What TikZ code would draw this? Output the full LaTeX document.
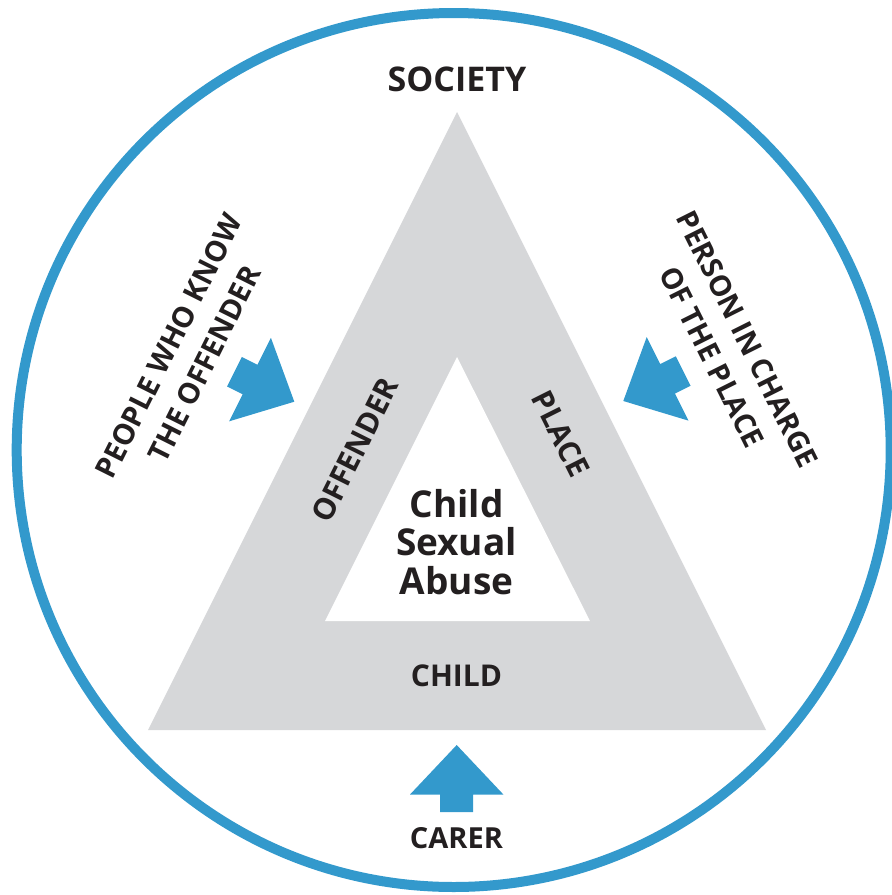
\documentclass[tikz,border=0pt]{standalone}
\usepackage{fontspec}
\setmainfont{Open Sans}
\definecolor{cblue}{HTML}{3399CC}
\definecolor{cgray}{HTML}{D6D7D9}
\definecolor{ctext}{HTML}{231F20}
\tikzset{
  lbl/.style={text=ctext, inner sep=0pt, align=center},
  bandlbl/.style={lbl, font=\bfseries\fontsize{30}{36}\selectfont},
  sidelbl/.style={lbl, font=\bfseries\fontsize{29}{40}\selectfont},
  blockarrow/.pic={\fill[cblue] (0,0) -- (-49.5,46.7) -- (-49.5,16.5) -- (-67,16.5)
     -- (-67,-16.5) -- (-49.5,-16.5) -- (-49.5,-46.7) -- cycle;}
}
\begin{document}
\begin{tikzpicture}[x=1pt,y=-1pt]
\useasboundingbox (0,0) rectangle (892,895);
\clip (0,0) rectangle (892,895);
% triangles
\coordinate (apex) at (457,112);
\coordinate (bl) at (148,730);
\coordinate (br) at (766,730);
\coordinate (iapex) at (457,357);
\coordinate (ibl) at (325,621);
\coordinate (ibr) at (590,621);
\fill[cgray] (apex) -- (br) -- (bl) -- cycle;
\fill[white] (iapex) -- (ibr) -- (ibl) -- cycle;
% circle
\coordinate (cc) at (453.7,450);
\draw[cblue, line width=10pt] (cc) circle[radius=437];
% arrows
\coordinate (tipL) at (294.3,401.7);
\coordinate (tipR) at (623.3,401);
\coordinate (tipB) at (456.7,745);
\pic[rotate=-26.57] at (tipL) {blockarrow};
\pic[rotate=206.57] at (tipR) {blockarrow};
\pic[rotate=90] at (tipB) {blockarrow};
% labels
\node[lbl, font=\bfseries\fontsize{34}{40}\selectfont] (society) at (457,79) {SOCIETY};
\node[lbl, font=\bfseries\fontsize{29}{36}\selectfont] (carer) at (456.5,838) {CARER};
\node[bandlbl] (child) at (456.5,676) {CHILD};
\node[bandlbl, rotate=63.43] (offender) at (355,450) {OFFENDER};
\node[bandlbl, rotate=-63.43] (place) at (561,434) {PLACE};
\node[lbl, font=\bfseries\fontsize{37}{38.5}\selectfont] (csa) at (456.5,542) {Child\\Sexual\\Abuse};
\node[sidelbl, rotate=63.43] (people) at (186.5,355) {PEOPLE WHO KNOW\\THE OFFENDER};
\node[sidelbl, rotate=-63.43] (person) at (729.5,348) {PERSON IN CHARGE\\OF THE PLACE};
\end{tikzpicture}
\end{document}
